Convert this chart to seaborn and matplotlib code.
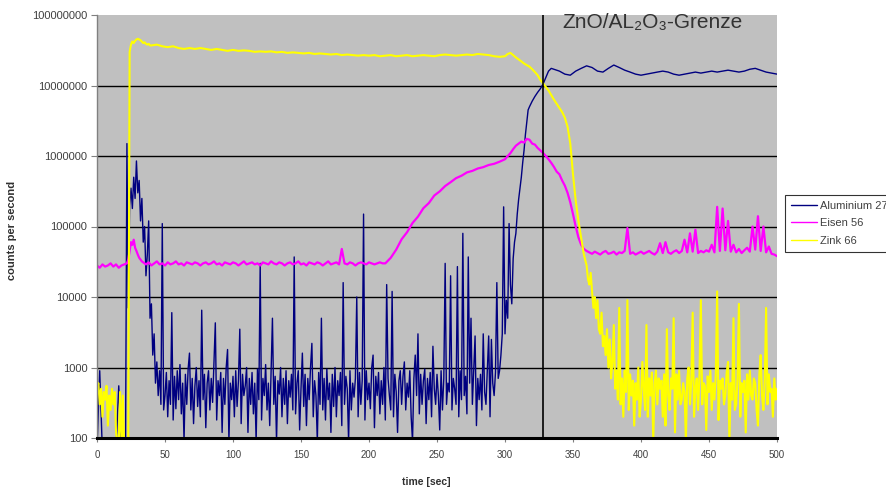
import numpy as np
import pandas as pd
import matplotlib
matplotlib.use("Agg")
import matplotlib.pyplot as plt
from matplotlib.ticker import FixedLocator, FixedFormatter, NullLocator
from matplotlib.lines import Line2D
import seaborn as sns

# ---------------------------------------------------------------- data
# SIMS depth profile, counts per second versus sputter time [s]
# Each series is stored in segments: (start, stop, step, values)

al_segments = [
    (0, 18, 2, [70, 900, 60, 70, 65, 75, 60, 70, 550, 60]),
    (20, 49, 1, [80, 90, 1.5e6, 7000, 2.0e5, 3.5e5, 1.8e5, 5.0e5, 2.5e5, 8.5e5,
                 3.0e5, 4.5e5, 1.2e5, 2.5e5, 6.0e4, 1.0e5, 2.0e4, 4.0e4, 1.2e5, 5000,
                 8000, 1500, 3000, 600, 1200, 400, 900, 300, 1.1e5, 250]),
    (50, 295, 1, [400, 850, 200, 650, 300, 6000, 180, 750, 260, 900,
                  350, 1100, 220, 600, 90, 800, 300, 950, 1600, 250,
                  700, 160, 550, 1000, 280, 650, 200, 6500, 350, 800,
                  140, 600, 900, 250, 700, 320, 1200, 4300, 180, 650,
                  400, 850, 120, 700, 300, 1000, 1800, 90, 600, 350,
                  750, 200, 900, 280, 650, 3500, 160, 800, 400, 550,
                  1000, 120, 700, 300, 850, 220, 600, 90, 950, 350,
                  30000, 180, 700, 400, 1100, 250, 600, 150, 850, 5000,
                  300, 750, 90, 650, 420, 1000, 200, 700, 300, 900,
                  160, 650, 380, 800, 250, 37000, 220, 600, 900, 130,
                  500, 1600, 280, 800, 150, 700, 350, 1000, 2200, 200,
                  650, 400, 90, 850, 300, 5000, 250, 700, 180, 950,
                  350, 600, 120, 800, 280, 1000, 200, 650, 400, 850,
                  150, 16000, 300, 750, 500, 90, 900, 250, 600, 380,
                  700, 10000, 200, 850, 300, 650, 150000, 180, 900, 350,
                  600, 260, 1000, 1500, 140, 750, 400, 850, 220, 650,
                  300, 1000, 180, 15000, 700, 400, 250, 12000, 200, 800,
                  450, 120, 650, 900, 300, 750, 1200, 250, 600, 380,
                  900, 200, 90, 700, 1500, 400, 3000, 220, 800, 300,
                  650, 950, 160, 700, 350, 850, 200, 2000, 500, 300,
                  800, 400, 130, 900, 250, 700, 30000, 300, 600, 450,
                  20000, 250, 700, 500, 300, 27000, 200, 900, 350, 80000,
                  400, 750, 220, 37000, 600, 5000, 300, 900, 2800, 150,
                  700, 350, 800, 250, 3000, 450, 300, 900, 2800, 200,
                  2500, 600, 400, 850, 16000, 700]),
    (296, 320, 1, [900, 1500, 3000, 190000, 3000, 9000, 5000, 110000, 15000, 8000,
                   35000, 60000, 80000, 150000, 240000, 350000, 500000, 800000, 1.2e6, 2.0e6,
                   3.0e6, 4.5e6, 5.0e6, 5.5e6, 6.0e6]),
    (322, 336, 2, [7.0e6, 8.0e6, 9.0e6, 1.05e7, 1.3e7, 1.6e7, 1.75e7, 1.7e7]),
    (340, 500, 4, [1.6e7, 1.45e7, 1.4e7, 1.6e7, 1.75e7, 1.9e7, 1.8e7, 1.6e7, 1.55e7, 1.75e7,
                   1.95e7, 1.8e7, 1.65e7, 1.55e7, 1.45e7, 1.4e7, 1.45e7, 1.5e7, 1.55e7, 1.6e7,
                   1.55e7, 1.45e7, 1.4e7, 1.45e7, 1.5e7, 1.55e7, 1.5e7, 1.55e7, 1.6e7, 1.55e7,
                   1.6e7, 1.65e7, 1.6e7, 1.55e7, 1.6e7, 1.7e7, 1.75e7, 1.65e7, 1.55e7, 1.5e7,
                   1.45e7]),
]

fe_segments = [
    (0, 20, 2, [2.8e4, 2.6e4, 2.9e4, 2.7e4, 2.8e4, 3.0e4, 2.7e4, 2.9e4, 2.6e4, 2.8e4, 2.9e4]),
    (22, 35, 1, [3.0e4, 3.4e4, 4.5e4, 6.0e4, 5.5e4, 6.5e4, 5.0e4, 4.5e4, 4.0e4, 3.6e4,
                 3.4e4, 3.2e4, 3.1e4, 3.0e4]),
    (36, 210, 2, [2.9e4, 3.1e4, 2.8e4, 3.0e4, 3.2e4, 2.9e4, 3.0e4, 2.8e4, 3.1e4, 2.9e4,
                  3.0e4, 3.2e4, 2.9e4, 3.0e4, 2.8e4, 3.1e4, 3.0e4, 2.9e4, 3.1e4, 3.0e4,
                  2.8e4, 3.0e4, 3.1e4, 2.9e4, 3.0e4, 3.2e4, 2.9e4, 3.0e4, 2.8e4, 3.1e4,
                  3.0e4, 2.9e4, 3.1e4, 3.0e4, 2.8e4, 3.0e4, 3.2e4, 2.9e4, 3.0e4, 3.1e4,
                  2.9e4, 3.0e4, 2.8e4, 3.1e4, 3.0e4, 2.9e4, 3.2e4, 3.0e4, 2.9e4, 3.1e4,
                  3.0e4, 2.8e4, 3.0e4, 3.1e4, 2.9e4, 3.0e4, 3.2e4, 2.9e4, 3.0e4, 2.8e4,
                  3.1e4, 3.0e4, 2.9e4, 3.1e4, 3.0e4, 2.8e4, 3.0e4, 3.2e4, 2.9e4, 3.0e4,
                  3.1e4, 2.9e4, 4.8e4, 3.0e4, 2.9e4, 3.1e4, 3.0e4, 2.8e4, 3.0e4, 3.1e4,
                  3.0e4, 2.9e4, 3.1e4, 3.0e4, 2.9e4, 3.0e4, 3.1e4, 3.0e4]),
    (212, 296, 4, [3.0e4, 3.6e4, 4.7e4, 6.6e4, 8.3e4, 1.12e5, 1.38e5, 1.82e5, 2.15e5, 2.75e5,
                   3.15e5, 3.75e5, 4.25e5, 4.85e5, 5.25e5, 5.85e5, 6.15e5, 6.65e5, 6.95e5, 7.45e5,
                   7.75e5, 8.3e5]),
    (300, 360, 2, [9.0e5, 1.0e6, 1.1e6, 1.25e6, 1.4e6, 1.5e6, 1.6e6, 1.55e6, 1.75e6, 1.7e6,
                   1.5e6, 1.45e6, 1.3e6, 1.2e6, 1.1e6, 1.0e6, 9.0e5, 8.0e5, 7.0e5, 6.0e5,
                   5.5e5, 4.5e5, 3.8e5, 3.0e5, 2.2e5, 1.5e5, 1.0e5, 7.0e4, 5.5e4, 4.8e4,
                   4.5e4]),
    (362, 500, 2, [4.3e4, 4.1e4, 4.4e4, 4.2e4, 4.0e4, 4.3e4, 4.5e4, 4.1e4, 4.2e4, 4.4e4,
                   4.0e4, 4.3e4, 4.2e4, 4.5e4, 9.5e4, 4.1e4, 4.3e4, 4.0e4, 4.2e4, 4.4e4,
                   4.1e4, 4.3e4, 4.5e4, 4.2e4, 4.0e4, 4.4e4, 5.8e4, 4.2e4, 6.0e4, 4.3e4,
                   4.1e4, 4.4e4, 4.6e4, 4.2e4, 4.5e4, 6.5e4, 4.3e4, 8.0e4, 4.4e4, 9.0e4,
                   4.2e4, 4.5e4, 4.3e4, 4.6e4, 4.4e4, 5.5e4, 4.3e4, 1.9e5, 4.5e4, 1.8e5,
                   4.6e4, 1.2e5, 4.4e4, 5.5e4, 4.3e4, 4.8e4, 4.2e4, 4.6e4, 5.0e4, 4.4e4,
                   1.0e5, 4.7e4, 1.4e5, 4.5e4, 1.0e5, 4.3e4, 5.2e4, 4.1e4, 4.0e4, 3.8e4]),
]

zn_segments = [
    (0, 23, 1, [500, 600, 300, 500, 200, 450, 350, 550, 150, 400,
                250, 500, 300, 450, 120, 80, 90, 450, 80, 400,
                70, 80, 70, 100]),
    (24, 39, 1, [3.0e7, 3.8e7, 4.2e7, 4.0e7, 4.3e7, 4.5e7, 4.6e7, 4.5e7, 4.4e7, 4.2e7,
                 4.0e7, 4.1e7, 3.9e7, 3.8e7, 3.9e7, 3.7e7]),
    (40, 296, 4, [3.7e7, 3.8e7, 3.6e7, 3.5e7, 3.6e7, 3.4e7, 3.3e7, 3.4e7, 3.3e7, 3.4e7,
                  3.3e7, 3.2e7, 3.3e7, 3.2e7, 3.1e7, 3.2e7, 3.1e7, 3.15e7, 3.1e7, 3.0e7,
                  3.05e7, 3.0e7, 3.05e7, 2.95e7, 3.0e7, 2.9e7, 2.95e7, 2.9e7, 2.85e7, 2.9e7,
                  2.8e7, 2.85e7, 2.8e7, 2.75e7, 2.8e7, 2.7e7, 2.75e7, 2.7e7, 2.65e7, 2.7e7,
                  2.65e7, 2.7e7, 2.6e7, 2.65e7, 2.7e7, 2.6e7, 2.65e7, 2.7e7, 2.6e7, 2.65e7,
                  2.7e7, 2.65e7, 2.6e7, 2.7e7, 2.75e7, 2.7e7, 2.65e7, 2.7e7, 2.75e7, 2.7e7,
                  2.8e7, 2.75e7, 2.7e7, 2.6e7, 2.55e7]),
    (300, 358, 2, [2.6e7, 2.8e7, 2.9e7, 2.7e7, 2.5e7, 2.35e7, 2.2e7, 2.05e7, 1.95e7, 1.85e7,
                   1.7e7, 1.55e7, 1.4e7, 1.2e7, 1.07e7, 9.5e6, 8.5e6, 7.3e6, 6.3e6, 5.5e6,
                   4.8e6, 4.2e6, 3.5e6, 2.6e6, 1.5e6, 5.5e5, 2.3e5, 1.2e5, 7.0e4, 4.0e4]),
    (360, 500, 1, [2.8e4, 1.8e4, 1.5e4, 2.2e4, 1.2e4, 7000, 1.0e4, 5000, 9000, 3500,
                   3000, 6000, 2000, 2800, 1500, 3500, 1000, 2500, 700, 1200,
                   4000, 500, 900, 350, 7000, 300, 700, 200, 900, 450,
                   9000, 250, 800, 400, 650, 150, 600, 350, 1000, 200,
                   350, 1200, 500, 250, 4000, 200, 700, 400, 850, 90,
                   600, 900, 300, 700, 500, 650, 200, 800, 150, 3500,
                   400, 250, 700, 500, 5000, 120, 800, 350, 900, 300,
                   350, 600, 450, 90, 700, 1000, 300, 650, 6000, 200,
                   500, 700, 250, 800, 9000, 300, 600, 550, 130, 750,
                   450, 900, 250, 600, 350, 800, 12000, 180, 650, 500,
                   700, 300, 400, 850, 1200, 90, 600, 350, 5000, 250,
                   300, 700, 8000, 200, 600, 450, 650, 120, 800, 350,
                   900, 400, 350, 700, 600, 250, 150, 800, 1500, 400,
                   250, 650, 7000, 300, 800, 450, 500, 200, 700, 350,
                   500]),
]

series_names = ["Aluminium 27", "Eisen 56", "Zink 66"]
series_colors = ["#000080", "#ff00ff", "#ffff00"]
series_widths = [1.0, 1.6, 1.5]
y_tick_values = [1e2, 1e3, 1e4, 1e5, 1e6, 1e7, 1e8]
y_tick_labels = ["100", "1000", "10000", "100000", "1000000", "10000000", "100000000"]
x_tick_values = [0, 50, 100, 150, 200, 250, 300, 350, 400, 450, 500]
interface_time = 328
interface_label = "ZnO/AL\u2082O\u2083-Grenze"


def build_frame(name, segments):
    times, counts = [], []
    for start, stop, step, vals in segments:
        t = np.arange(start, stop + step / 2, step)
        assert len(t) == len(vals), (name, start, len(t), len(vals))
        times.extend(t.tolist())
        counts.extend(vals)
    return pd.DataFrame({"time": times, "counts": counts, "element": name})


df = pd.concat([
    build_frame(series_names[0], al_segments),
    build_frame(series_names[1], fe_segments),
    build_frame(series_names[2], zn_segments),
], ignore_index=True)

# ---------------------------------------------------------------- plot
sns.set_style("white")
plt.rcParams["font.family"] = ["Liberation Sans", "DejaVu Sans"]

fig = plt.figure(figsize=(8.87, 4.87), dpi=100)
ax = fig.add_axes([97 / 887, 1 - 438 / 487, 680 / 887, 423 / 487])
ax.set_facecolor("#c0c0c0")

palette = dict(zip(series_names, series_colors))
sns.lineplot(data=df, x="time", y="counts", hue="element", hue_order=series_names,
             palette=palette, estimator=None, sort=False, linewidth=1.0,
             legend=False, ax=ax)
for line, lw in zip(ax.lines, series_widths):
    line.set_linewidth(lw)

ax.set_yscale("log")
ax.set_ylim(100, 1e8)
ax.set_xlim(0, 500)

ax.yaxis.set_major_locator(FixedLocator(y_tick_values))
ax.yaxis.set_major_formatter(FixedFormatter(y_tick_labels))
ax.yaxis.set_minor_locator(NullLocator())
ax.xaxis.set_major_locator(FixedLocator(x_tick_values))
ax.xaxis.set_minor_locator(NullLocator())

ax.grid(axis="y", color="black", linewidth=1.0, zorder=0)
ax.grid(axis="x", visible=False)
ax.set_axisbelow(True)
# no grid line along the upper edge of the plot area
ax.yaxis.get_gridlines()[-1].set_visible(False)

for side in ("top", "right"):
    ax.spines[side].set_visible(False)
ax.spines["left"].set_color("#808080")
ax.spines["left"].set_linewidth(1.0)
ax.spines["bottom"].set_color("black")
ax.spines["bottom"].set_linewidth(2.2)

ax.tick_params(axis="y", which="major", direction="out", length=4, width=0.8,
               color="#808080", labelsize=8, labelcolor="#404040", pad=3, left=True)
ax.tick_params(axis="x", which="major", direction="out", length=3, width=0.8,
               color="#808080", labelsize=7, labelcolor="#404040", pad=6, bottom=True)

ax.set_xlabel("time [sec]", fontsize=7.5, fontweight="bold", color="#303030")
ax.xaxis.set_label_coords(0.485, -0.092)
ax.set_ylabel("counts per second", fontsize=8, fontweight="bold", color="#303030")
ax.yaxis.set_label_coords(-0.118, 0.49)

# interface marker
ax.axvline(interface_time, color="black", linewidth=1.2, zorder=5)
ax.text(0.685, 0.983, interface_label, transform=ax.transAxes, ha="left", va="center",
        fontsize=15, color="#333333", family=["Liberation Sans", "DejaVu Sans"])

# legend, anchored to the right edge of the figure
handles = [Line2D([0], [0], color=c, lw=1.0) for c in series_colors]
leg = ax.legend(handles, series_names, loc="upper left",
                bbox_to_anchor=(785 / 887, 1 - 195 / 487), bbox_transform=fig.transFigure,
                frameon=True, fancybox=False, edgecolor="black", facecolor="white",
                fontsize=8, borderaxespad=0, handlelength=2.3, handletextpad=0.3,
                labelspacing=0.65, borderpad=0.55)
leg.get_frame().set_linewidth(0.8)
for txt in leg.get_texts():
    txt.set_color("#404040")

fig.savefig("out.png", dpi=100)
